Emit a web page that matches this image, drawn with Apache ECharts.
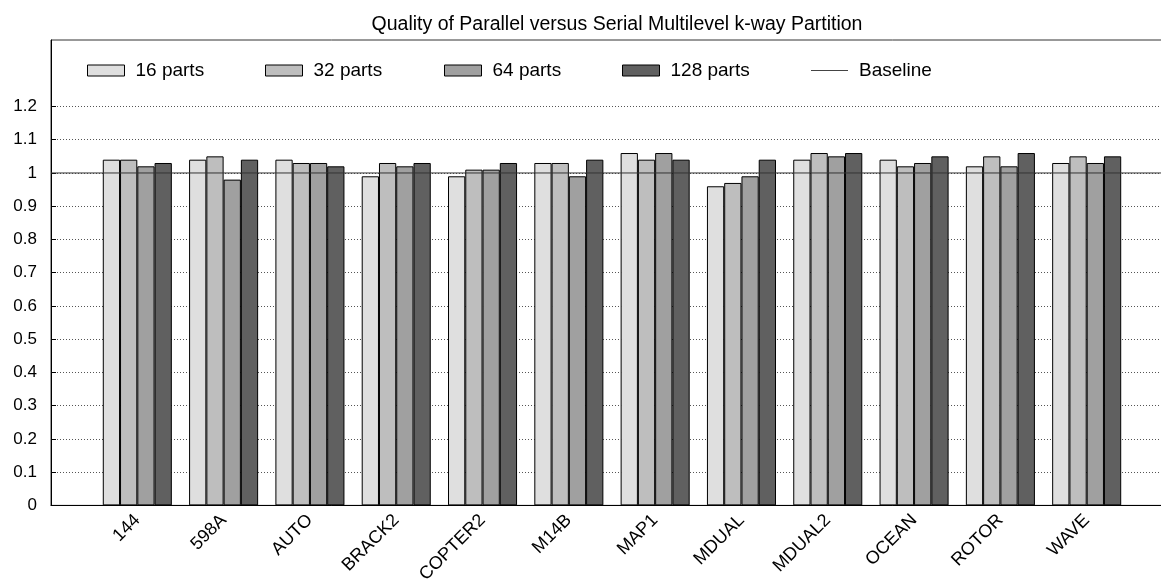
<!DOCTYPE html>
<html>
<head>
<meta charset="utf-8">
<title>Quality of Parallel versus Serial Multilevel k-way Partition</title>
<script src="https://cdn.jsdelivr.net/npm/echarts@6/dist/echarts.min.js"></script>
<style>
html, body { margin: 0; padding: 0; background: #fff; overflow: hidden; }
/* a little wider than the window: the right side of the frame falls just outside, as in the original */
#ct1 { width: 1185px; height: 586px; }
</style>
</head>
<body>
<div id="ct1"></div>
<script>
// one blank slot on each side so the frame runs from x=-1 to x=12 like the original
var categories = ['', '144', '598A', 'AUTO', 'BRACK2', 'COPTER2', 'M14B', 'MAP1', 'MDUAL', 'MDUAL2', 'OCEAN', 'ROTOR', 'WAVE', ''];
var parts16  = ['-', 1.04, 1.04, 1.04, 0.99, 0.99, 1.03, 1.06, 0.96, 1.04, 1.04, 1.02, 1.03, '-'];
var parts32  = ['-', 1.04, 1.05, 1.03, 1.03, 1.01, 1.03, 1.04, 0.97, 1.06, 1.02, 1.05, 1.05, '-'];
var parts64  = ['-', 1.02, 0.98, 1.03, 1.02, 1.01, 0.99, 1.06, 0.99, 1.05, 1.03, 1.02, 1.03, '-'];
var parts128 = ['-', 1.03, 1.04, 1.02, 1.03, 1.03, 1.04, 1.04, 1.04, 1.06, 1.05, 1.06, 1.05, '-'];
var baseline = [1, 1, 1, 1, 1, 1, 1, 1, 1, 1, 1, 1, 1, 1];
var yTicks = [0, 0.1, 0.2, 0.3, 0.4, 0.5, 0.6, 0.7, 0.8, 0.9, 1, 1.1, 1.2];

var font = 'Liberation Sans, Arial, Helvetica, sans-serif';
var myChart1 = null;

function barSeries(name, data, color) {
	return {
		name: name,
		type: 'bar',
		data: data,
		barGap: '0%',
		barCategoryGap: '20%',
		itemStyle: { color: color, borderColor: '#000', borderWidth: 1 }
	};
}

// gnuplot-like key: each entry placed on its own
function keyEntry(name, left, icon) {
	var item = { name: name, icon: icon || 'rect' };
	if (icon) {
		item.itemStyle = { color: '#444', borderWidth: 0 };
	} else {
		item.itemStyle = { borderColor: '#000', borderWidth: 1 };
	}
	return {
		left: left,
		top: 56,
		itemWidth: 37,
		itemHeight: 11,
		selectedMode: false,
		textStyle: { fontFamily: font, fontSize: 19, color: '#000', padding: [0, 0, 0, 6] },
		data: [item]
	};
}

var lineIcon = 'path://M0,0L0,11L0,0Z M0,5H37V6H0Z';

var option1 = {
	animation: false,
	backgroundColor: '#fff',
	title: {
		text: 'Quality of Parallel versus Serial Multilevel k-way Partition',
		left: 612,
		textAlign: 'center',
		top: 10,
		textStyle: { fontFamily: font, fontSize: 19.5, fontWeight: 'normal', color: '#000' }
	},
	legend: [
		keyEntry('16 parts', 82),
		keyEntry('32 parts', 260),
		keyEntry('64 parts', 439),
		keyEntry('128 parts', 617),
		keyEntry('Baseline', 806, lineIcon)
	],
	grid: {
		left: 51,
		right: 12,
		top: 40,
		bottom: 79,
		show: true,
		borderColor: '#333',
		borderWidth: 1
	},
	xAxis: {
		type: 'category',
		data: categories,
		boundaryGap: false,
		axisLine: { lineStyle: { color: '#000', width: 1 } },
		axisTick: { show: false },
		axisLabel: {
			rotate: 45,
			interval: 0,
			margin: 12,
			fontFamily: font,
			fontSize: 18,
			color: '#000'
		},
		splitLine: { show: false }
	},
	yAxis: {
		type: 'value',
		min: 0,
		max: 1.4,
		interval: 0.1,
		axisLine: { show: true, lineStyle: { color: '#000', width: 1 } },
		axisTick: { show: true, inside: true, length: 5, customValues: yTicks, lineStyle: { color: '#000' } },
		axisLabel: {
			customValues: yTicks,
			fontFamily: font,
			fontSize: 17,
			color: '#000',
			margin: 14,
			formatter: function (v) {
				return String(Math.round(v * 10) / 10);
			}
		},
		splitLine: { show: true, lineStyle: { color: '#555', type: [1, 2], width: 1 } }
	},
	series: [
		barSeries('16 parts', parts16, '#dfdfdf'),
		barSeries('32 parts', parts32, '#bebebe'),
		barSeries('64 parts', parts64, '#a0a0a0'),
		barSeries('128 parts', parts128, '#606060'),
		{
			name: 'Baseline',
			type: 'line',
			data: baseline,
			symbol: 'none',
			z: 5,
			lineStyle: { color: '#333', width: 1 },
			itemStyle: { color: '#333' }
		}
	]
};

function initMyChar1() {
	if (myChart1 && myChart1.dispose) {
		myChart1.dispose();
	}
	myChart1 = echarts.init(document.getElementById('ct1'));
	myChart1.setOption(option1, true);
}

initMyChar1();
</script>
</body>
</html>
